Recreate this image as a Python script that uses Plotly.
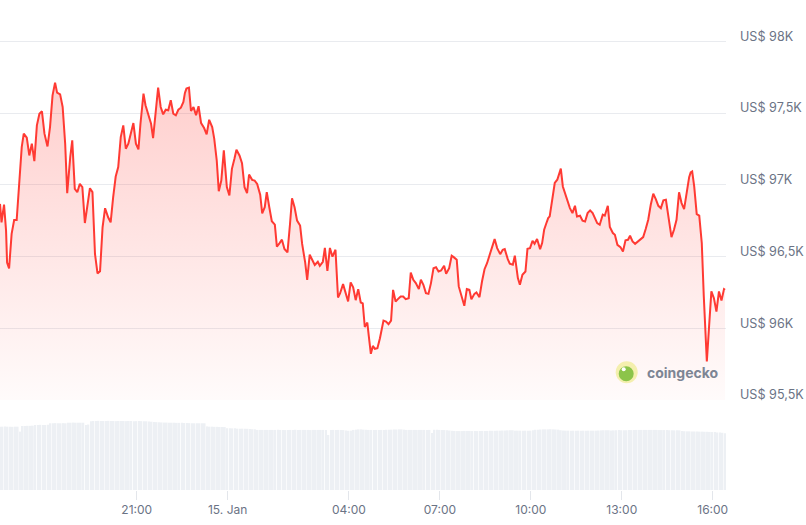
import pandas as pd
import plotly.graph_objects as go

# ---------------- data ----------------
start = pd.Timestamp("2025-01-14 16:29:24")

price_minutes = [
    0, 3, 8, 12, 14, 18, 23, 28, 33, 38, 43, 47, 53, 58, 63, 68, 73, 78, 83, 88,
    94, 99, 104, 109, 113, 119, 124, 129, 133, 139, 143, 148, 153, 158, 163, 168, 173, 178, 183, 188,
    193, 198, 203, 208, 214, 219, 224, 229, 234, 239, 244, 249, 254, 259, 264, 269, 274, 278, 284, 288,
    293, 299, 303, 309, 313, 318, 323, 328, 333, 338, 343, 348, 353, 358, 363, 366, 369, 374, 378, 383,
    388, 393, 398, 404, 409, 414, 420, 424, 429, 433, 438, 443, 449, 454, 459, 464, 468, 474, 479, 484,
    489, 493, 499, 504, 509, 515, 519, 524, 528, 533, 538, 544, 548, 553, 558, 563, 569, 574, 578, 583,
    588, 594, 598, 604, 608, 613, 619, 623, 629, 633, 639, 643, 648, 653, 658, 664, 669, 673, 679, 683,
    689, 694, 699, 704, 709, 714, 718, 722, 727, 730, 734, 738, 742, 747, 752, 759, 764, 769, 774, 778,
    783, 788, 793, 798, 803, 809, 813, 818, 823, 829, 833, 838, 843, 848, 853, 858, 863, 868, 873, 879,
    883, 889, 894, 898, 904, 908, 914, 919, 924, 929, 933, 939, 943, 949, 954, 959, 964, 970, 974, 979,
    984, 990, 995, 999, 1005, 1009, 1015, 1019, 1025, 1029, 1034, 1040, 1044, 1049, 1054, 1058, 1063, 1069, 1073, 1077,
    1081, 1085, 1088, 1094, 1098, 1103, 1107, 1110, 1114, 1118, 1123, 1128, 1133, 1138, 1142, 1148, 1153, 1158, 1163, 1168,
    1173, 1178, 1182, 1187, 1193, 1197, 1203, 1207, 1213, 1217, 1222, 1228, 1233, 1238, 1243, 1247, 1252, 1257, 1263, 1268,
    1273, 1278, 1283, 1288, 1293, 1298, 1303, 1308, 1313, 1318, 1323, 1329, 1334, 1339, 1344, 1349, 1354, 1359, 1364, 1367,
    1370, 1374, 1379, 1384, 1389, 1393, 1399, 1403, 1408, 1413, 1418, 1423, 1428, 1433, 1435,
]

prices = [
    96866, 96738, 96862, 96680, 96458, 96417, 96657, 96754, 96754, 97006, 97262, 97356, 97328, 97204, 97286, 97164, 97414, 97495, 97512, 97356,
    97267, 97402, 97623, 97712, 97642, 97630, 97542, 97286, 96941, 97192, 97309, 96971, 96948, 97006, 96983, 96733, 96871, 96976, 96948, 96517,
    96382, 96396, 96703, 96836, 96773, 96738, 96913, 97057, 97123, 97332, 97414, 97251, 97286, 97367, 97430, 97286, 97246, 97425, 97635, 97554,
    97500, 97425, 97325, 97542, 97677, 97542, 97491, 97523, 97519, 97589, 97495, 97484, 97523, 97537, 97577, 97640, 97670, 97677, 97514, 97542,
    97484, 97547, 97430, 97395, 97351, 97453, 97402, 97321, 97169, 96955, 97029, 97239, 96983, 96925, 97111, 97181, 97244, 97204, 97150, 96983,
    96941, 97071, 97034, 97029, 97006, 96931, 96801, 96843, 96948, 96843, 96745, 96722, 96568, 96591, 96617, 96552, 96528, 96726, 96906, 96843,
    96750, 96715, 96587, 96458, 96337, 96512, 96470, 96440, 96463, 96435, 96463, 96559, 96400, 96559, 96498, 96547, 96214, 96242, 96307, 96265,
    96186, 96319, 96284, 96195, 96272, 96179, 96172, 96008, 96039, 95942, 95821, 95876, 95856, 95860, 95930, 96053, 96046, 96028, 96053, 96267,
    96186, 96204, 96221, 96221, 96202, 96209, 96388, 96337, 96314, 96272, 96337, 96302, 96244, 96239, 96314, 96418, 96425, 96395, 96402, 96435,
    96379, 96418, 96505, 96495, 96477, 96291, 96209, 96156, 96272, 96267, 96202, 96239, 96249, 96216, 96325, 96411, 96453, 96523, 96574, 96621,
    96558, 96516, 96546, 96551, 96481, 96449, 96442, 96505, 96349, 96302, 96372, 96395, 96553, 96558, 96609, 96588, 96621, 96551, 96593, 96686,
    96728, 96767, 96779, 96942, 97012, 97035, 97077, 97112, 96988, 96947, 96891, 96837, 96802, 96853, 96779, 96784, 96749, 96744, 96802, 96821,
    96802, 96767, 96732, 96721, 96791, 96784, 96853, 96705, 96663, 96651, 96581, 96565, 96535, 96612, 96616, 96644, 96605, 96588, 96605, 96621,
    96635, 96691, 96756, 96860, 96937, 96900, 96853, 96837, 96891, 96895, 96767, 96635, 96686, 96756, 96947, 96872, 96830, 96960, 97053, 97086,
    97093, 96988, 96795, 96784, 96593, 96221, 95767, 95988, 96256, 96209, 96116, 96256, 96193, 96272, 96267,
]

volume_step_minutes = 5
# 24h trading volume (USD billions), one row per hour of 5-minute bars
volume_rows = [
    [44.7, 44.7, 44.8, 44.7, 44.7, 44.6, 44.7, 44.7, 41.2, 45.2, 45.2, 45.3],
    [45.3, 45.4, 45.9, 45.9, 46.0, 45.9, 45.9, 46.1, 47.1, 47.1, 47.2, 47.1],
    [47.1, 47.2, 47.1, 47.5, 47.5, 47.6, 47.5, 47.5, 47.5, 47.5, 45.9, 46.2],
    [48.5, 48.7, 48.7, 48.8, 48.7, 48.7, 48.7, 48.8, 48.7, 48.7, 48.6, 48.7],
    [48.7, 48.7, 48.6, 48.7, 48.7, 48.5, 48.6, 48.7, 48.6, 48.6, 48.5, 48.4],
    [48.2, 48.0, 47.9, 47.8, 47.7, 47.6, 47.6, 47.5, 47.5, 47.5, 47.4, 47.4],
    [47.4, 47.3, 47.3, 47.2, 47.2, 47.1, 47.1, 47.1, 47.1, 47.1, 44.9, 44.7],
    [44.7, 44.6, 44.6, 44.5, 44.5, 44.4, 43.6, 43.5, 43.5, 43.5, 43.3, 43.3],
    [43.3, 43.2, 43.2, 43.0, 42.9, 42.8, 42.4, 42.4, 42.4, 42.4, 42.4, 42.4],
    [42.4, 42.4, 42.5, 42.4, 42.4, 42.3, 42.4, 42.4, 42.4, 42.5, 42.4, 42.4],
    [42.4, 42.4, 42.4, 42.3, 42.4, 42.4, 42.4, 42.4, 42.4, 42.4, 38.8, 42.4],
    [42.4, 42.4, 42.4, 42.4, 42.3, 42.0, 41.8, 41.9, 42.4, 42.6, 42.8, 42.8],
    [42.6, 42.5, 42.4, 42.4, 42.4, 42.4, 42.4, 42.4, 42.4, 42.5, 42.6, 42.6],
    [42.7, 42.7, 42.8, 42.8, 42.6, 42.4, 42.4, 42.4, 42.4, 42.4, 42.4, 42.4],
    [42.4, 42.4, 42.4, 40.2, 42.5, 42.5, 42.4, 42.4, 42.3, 42.2, 42.0, 41.8],
    [41.7, 41.6, 41.6, 41.6, 41.7, 41.7, 41.7, 41.6, 41.6, 41.6, 41.7, 41.7],
    [41.7, 41.7, 41.8, 41.8, 41.8, 41.9, 41.9, 42.0, 42.0, 42.1, 42.2, 42.2],
    [41.9, 41.9, 41.9, 41.9, 41.9, 41.9, 41.9, 42.2, 42.5, 42.6, 42.7, 42.8],
    [42.8, 42.8, 42.9, 42.8, 42.7, 42.6, 42.2, 42.0, 41.9, 41.9, 41.9, 41.9],
    [41.9, 41.9, 41.9, 41.9, 41.9, 41.9, 41.9, 41.9, 41.9, 42.0, 42.1, 42.2],
    [42.2, 42.2, 42.0, 42.1, 42.2, 42.3, 42.2, 42.1, 42.2, 42.3, 42.3, 42.4],
    [42.4, 42.4, 42.4, 42.4, 42.4, 42.4, 42.4, 42.4, 42.4, 42.3, 42.3, 42.3],
    [42.3, 42.2, 42.2, 42.1, 42.1, 42.1, 41.6, 41.5, 41.4, 41.4, 41.3, 41.3],
    [41.3, 41.2, 41.2, 41.1, 41.1, 41.0, 40.9, 40.9, 40.6, 40.5, 40.4, 40.0],
]

price_ticks = [95500, 96000, 96500, 97000, 97500, 98000]
price_tick_labels = ["US$ 95,5K", "US$ 96K", "US$ 96,5K", "US$ 97K", "US$ 97,5K", "US$ 98K"]
time_ticks = ["2025-01-14 21:00", "2025-01-15 00:00", "2025-01-15 04:00", "2025-01-15 07:00",
              "2025-01-15 10:00", "2025-01-15 13:00", "2025-01-15 16:00"]
time_tick_labels = ["21:00", "15. Jan", "04:00", "07:00", "10:00", "13:00", "16:00"]

# ---------------- build ----------------
W, H = 806, 525
price_times = start + pd.to_timedelta(price_minutes, unit="m")
volumes = [v for row in volume_rows for v in row]
volume_times = start + pd.to_timedelta([i * volume_step_minutes for i in range(len(volumes))], unit="m")

x_end = pd.Timestamp("2025-01-15 16:26:20")
x_dom = [0, 726 / W]

RED = "#ff3a33"
FONT_FAMILY = "Inter, Noto Sans, sans-serif"
Y_TICK_FONT = dict(family=FONT_FAMILY, size=12.6, color="#6b7385")
X_TICK_FONT = dict(family=FONT_FAMILY, size=12, color="#6b7385")

fig = go.Figure()
fig.add_trace(go.Bar(
    x=volume_times, y=volumes, xaxis="x2", yaxis="y2",
    marker=dict(color="#edf0f4", line=dict(width=0)),
    hoverinfo="skip", showlegend=False,
))
fig.add_trace(go.Scatter(
    x=price_times, y=prices, mode="lines",
    line=dict(color=RED, width=2),
    fill="tozeroy",
    fillgradient=dict(type="vertical", start=95500, stop=97750,
                      colorscale=[[0, "rgba(255,58,51,0.02)"], [1, "rgba(255,58,51,0.25)"]]),
    showlegend=False,
))

fig.update_layout(
    width=W, height=H,
    margin=dict(l=0, r=0, t=0, b=0, autoexpand=False),
    paper_bgcolor="white", plot_bgcolor="white",
    bargap=0.3,
    showlegend=False,
    xaxis=dict(domain=x_dom, range=[start, x_end], anchor="y", showticklabels=False,
               showgrid=False, zeroline=False, showline=False, ticks="", automargin=False),
    yaxis=dict(domain=[(H - 400) / H, 1], range=[95499, 98288], side="right",
               anchor="free", position=x_dom[1],
               tickvals=price_ticks, ticktext=price_tick_labels,
               ticklabelposition="outside", ticklabelshift=-5, ticklabelstandoff=13,
               tickfont=Y_TICK_FONT, showgrid=True, gridcolor="#e9ebef", gridwidth=1,
               zeroline=False, showline=False, ticks="", automargin=False),
    xaxis2=dict(domain=x_dom, range=[start, x_end], anchor="y2",
                tickvals=time_ticks, ticktext=time_tick_labels,
                ticks="outside", ticklen=9, tickcolor="#e3e6eb", tickwidth=1,
                tickfont=X_TICK_FONT, showgrid=False, zeroline=False, showline=False,
                automargin=False),
    yaxis2=dict(domain=[35 / H, 120 / H], range=[0, 60], visible=False, automargin=False),
)

# CoinGecko watermark
cx, cy, r = 626.7, 372.3, 11
fig.add_shape(type="circle", xref="paper", yref="paper",
              x0=(cx - r) / W, x1=(cx + r) / W, y0=(H - cy - r) / H, y1=(H - cy + r) / H,
              fillcolor="#f4efae", line=dict(width=0), layer="above")
r2 = 8
fig.add_shape(type="circle", xref="paper", yref="paper",
              x0=(cx - r2) / W, x1=(cx + r2 - 1) / W, y0=(H - cy - r2 - 1) / H, y1=(H - cy + r2 - 2) / H,
              fillcolor="#8cc44a", line=dict(width=0), layer="above")
fig.add_shape(type="circle", xref="paper", yref="paper",
              x0=(cx - 5) / W, x1=(cx - 1) / W, y0=(H - cy + 1) / H, y1=(H - cy + 5) / H,
              fillcolor="white", line=dict(width=0), layer="above")
fig.add_annotation(text="<b>coingecko</b>", xref="paper", yref="paper",
                   x=645 / W, y=(H - cy) / H, xanchor="left", yanchor="middle", showarrow=False,
                   font=dict(family=FONT_FAMILY, size=14, color="#7d8594"))

fig.write_html("out.html", config={"displayModeBar": False},
               post_script="document.body.style.margin='0';document.body.style.overflow='hidden';")
